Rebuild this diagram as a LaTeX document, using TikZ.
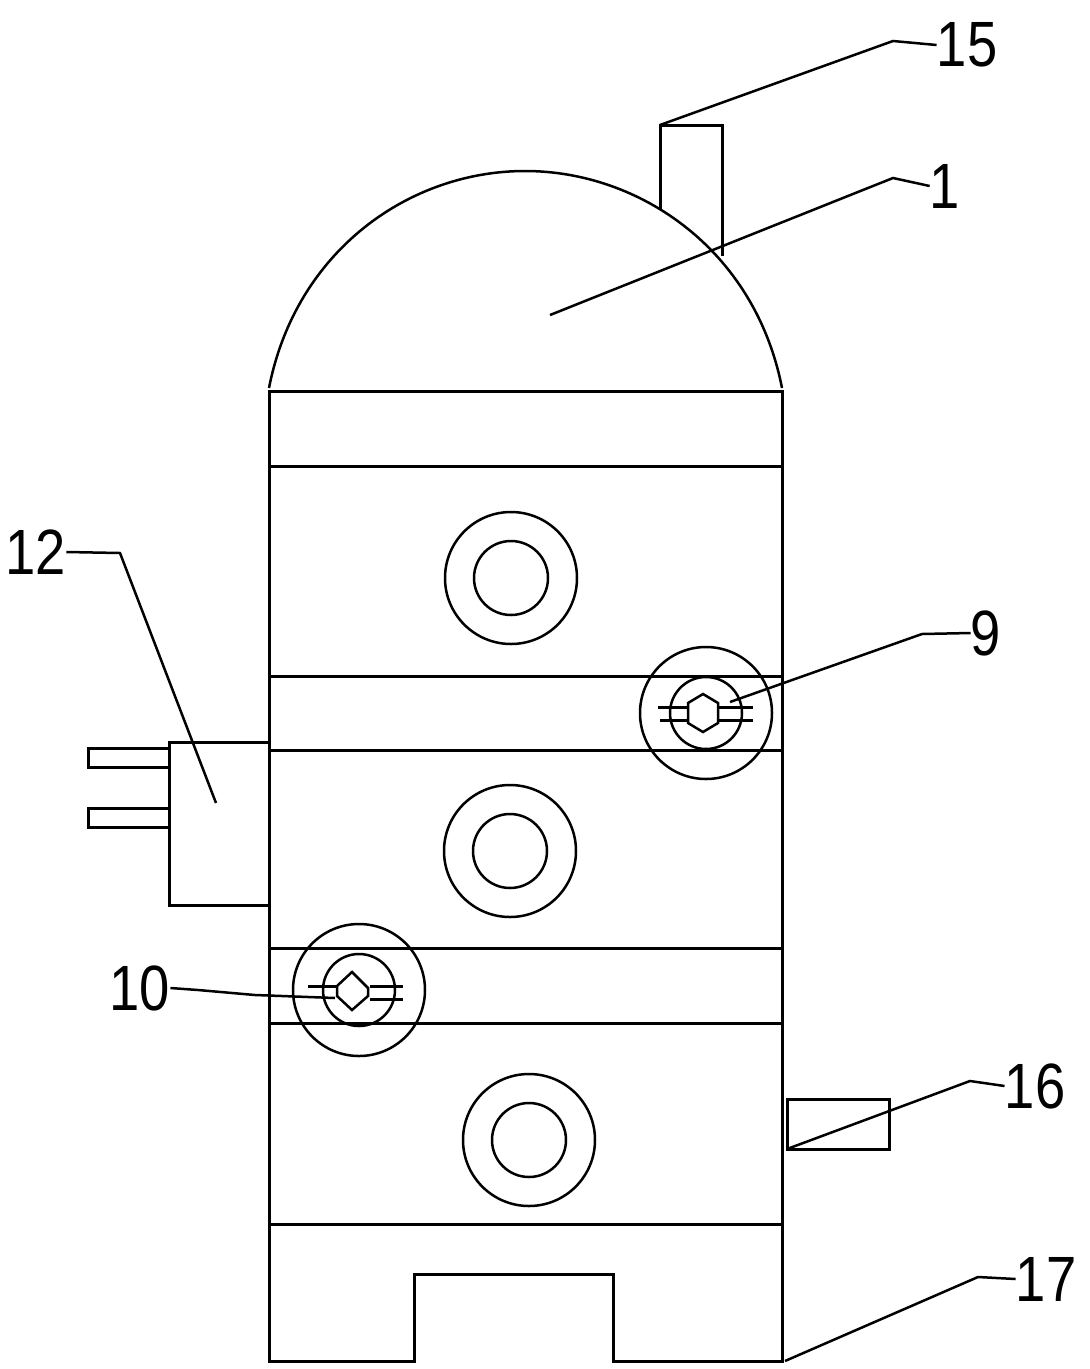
\documentclass[tikz,border=0pt]{standalone}
\usepackage{fontspec}
\setmainfont[FakeStretch=0.85]{Liberation Sans}
\tikzset{
  part/.style={draw=black, line width=3pt},
  thinpart/.style={draw=black, line width=2.5pt},
  leader/.style={draw=black, line width=2.5pt},
  numlabel/.style={font=\fontsize{64}{64}\selectfont, inner sep=0pt, text=black},
}
\begin{document}
\begin{tikzpicture}[x=1pt, y=-1pt]
  \useasboundingbox (0,0) rectangle (1090,1369);
  % body
  \draw [part] (414,1361) -- (414,1274) -- (613,1274) -- (613,1361) -- (782,1361)
    -- (782,391) -- (269,391) -- (269,1361) -- cycle;
  \draw [thinpart] (782,388) .. controls (755,250) and (640,171) .. (525,171)
    .. controls (410,171) and (296,250) .. (269,388);
  \foreach \yband in {466,676,750,948,1023,1224} {
    \draw [part] (269,\yband) -- (782,\yband);
  }
  % stubs
  \draw [part] (660,209) -- (660,125) -- (722,125) -- (722,256);
  \draw [part] (268,742) -- (169,742) -- (169,905) -- (268,905);
  \draw [part] (169,748) -- (88,748) -- (88,767) -- (169,767);
  \draw [part] (169,808) -- (88,808) -- (88,827) -- (169,827);
  \draw [part] (787,1099) rectangle (889,1149);
  % rings
  \foreach \xc/\yc in {511/578, 510/851, 529/1140} {
    \draw [thinpart] (\xc,\yc) circle (66);
    \draw [thinpart] (\xc,\yc) circle (37);
  }
  \foreach \xc/\yc in {706/713, 359/990} {
    \draw [thinpart] (\xc,\yc) circle (66);
    \draw [thinpart] (\xc,\yc) circle (36);
  }
  % fittings
  \draw [thinpart] (703,694) -- (718,703) -- (718,723) -- (703,732) -- (688,723) -- (688,703) -- cycle;
  \draw [part] (658,707) -- (688,707);
  \draw [part] (660,720) -- (688,720);
  \draw [part] (718,707) -- (753,707);
  \draw [part] (718,720) -- (753,720);
  \draw [thinpart] (352,972) -- (368,988) -- (368,996) -- (352,1010) -- (337,996) -- (337,986) -- cycle;
  \draw [part] (308,986) -- (337,986);
  \draw [part] (370,986) -- (403,986);
  \draw [part] (370,999) -- (403,999);
  % labels
  \node [numlabel] (n15) at (967,45) {15};
  \node [numlabel] (n1) at (945,186) {1};
  \node [numlabel] (n12) at (36,552) {12};
  \node [numlabel] (n9) at (986,633) {9};
  \node [numlabel] (n10) at (140,988) {10};
  \node [numlabel] (n16) at (1035,1086) {16};
  \node [numlabel] (n17) at (1046,1279) {17};
  \coordinate (t15) at (660,125);
  \coordinate (t1) at (550,315);
  \coordinate (t12) at (216,803);
  \coordinate (t9) at (730,702);
  \coordinate (t10) at (335,998);
  \coordinate (t16) at (787,1149);
  \coordinate (t17) at (785,1361);
  \draw [leader] (t15) -- (893,41) -- (n15.west);
  \draw [leader] (t1) -- (893,178) -- (n1.west);
  \draw [leader] (t12) -- (120,553) -- (n12.east);
  \draw [leader] (t9) -- (922,634) -- (n9.west);
  \draw [leader] (t10) -- (255,995) -- (198,990) -- (n10.east);
  \draw [leader] (t16) -- (970,1081) -- (n16.west);
  \draw [leader] (t17) -- (978,1277) -- (n17.west);
\end{tikzpicture}
\end{document}
